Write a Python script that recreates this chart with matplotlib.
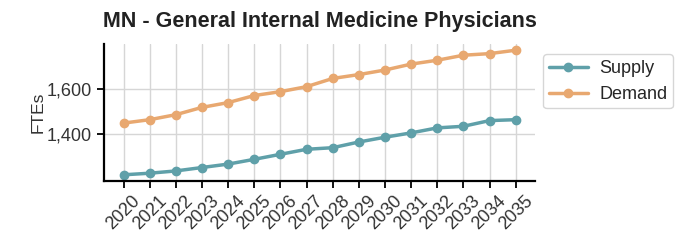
import matplotlib
matplotlib.use("Agg")
import matplotlib.pyplot as plt
import matplotlib.ticker as mtick
import seaborn as sns

years = list(range(2020, 2036))
supply = [1223, 1230, 1240, 1255, 1270, 1291, 1313, 1335, 1342, 1367,
          1388, 1407, 1429, 1436, 1461, 1465]
demand = [1450, 1465, 1487, 1519, 1540, 1571, 1588, 1610, 1646, 1663,
          1683, 1709, 1726, 1748, 1755, 1770]

sns.set_style("ticks")
plt.rcParams['font.family'] = ['Liberation Sans', 'DejaVu Sans']

fig, ax = plt.subplots(figsize=(6.75, 2.43), dpi=100)
fig.subplots_adjust(left=0.154, right=0.793, top=0.819, bottom=0.255)

ax.plot(years, supply, '-o', color='#5fa0a9', lw=2.5, ms=6, label='Supply')
ax.plot(years, demand, '-o', color='#e8a870', lw=2.5, ms=6, label='Demand')

ax.set_title('MN - General Internal Medicine Physicians', fontsize=15.5,
             fontweight='bold', color='#222222', pad=12)
ax.set_ylabel('FTEs', fontsize=12.5, color='#333333', labelpad=1)
ax.set_xticks(years)
ax.set_xticklabels([str(y) for y in years], rotation=45, fontsize=13,
                   color='#333333')
ax.set_yticks([1400, 1600])
ax.yaxis.set_major_formatter(mtick.StrMethodFormatter('{x:,.0f}'))
ax.tick_params(axis='y', labelsize=13, labelcolor='#333333')
ax.tick_params(length=5, width=1.3, color='black')
ax.grid(True, color='#d6d6d6', lw=1)
ax.set_axisbelow(True)
sns.despine(ax=ax)
for s in ['left', 'bottom']:
    ax.spines[s].set_color('black')
    ax.spines[s].set_linewidth(1.6)

ax.legend(loc='upper left', bbox_to_anchor=(1.01, 0.95), fontsize=13,
          handlelength=2.2, handletextpad=0.6, borderpad=0.3,
          borderaxespad=0.2, frameon=True)

fig.savefig('out.png', dpi=100)
